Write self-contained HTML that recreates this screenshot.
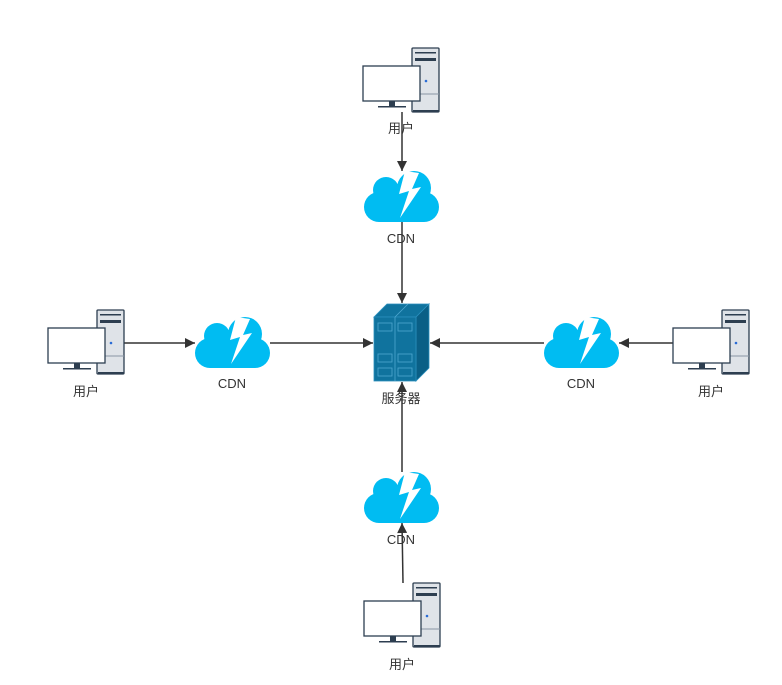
<!DOCTYPE html>
<html><head><meta charset="utf-8"><style>
html,body{margin:0;padding:0;background:#fff;}
svg text{font-family:"Liberation Sans","Noto Sans CJK SC",sans-serif;font-size:13px;fill:#333;text-anchor:middle;}
</style></head><body>
<svg width="782" height="680" viewBox="0 0 782 680" xmlns="http://www.w3.org/2000/svg">
<defs>
<g id="user">
  <rect x="49" y="0" width="27" height="64" rx="1" fill="#dfe3e8" stroke="#2d3e50" stroke-width="1.3"/>
  <rect x="52" y="4" width="21" height="1.5" fill="#2d3e50"/>
  <rect x="52" y="10" width="21" height="3" fill="#2d3e50"/>
  <line x1="49" y1="46" x2="76" y2="46" stroke="#8a96a3" stroke-width="1"/>
  <circle cx="63" cy="33" r="1.3" fill="#2a6cd6"/>
  <rect x="50" y="62" width="26" height="2" fill="#2d3e50"/>
  <rect x="0" y="18" width="57" height="35" fill="#fff" stroke="#2d3e50" stroke-width="1.3"/>
  <rect x="26" y="53" width="6" height="5" fill="#2d3e50"/>
  <rect x="15" y="58" width="28" height="1.5" fill="#2d3e50"/>
</g>
<g id="cloud">
  <circle cx="22" cy="20" r="13" fill="#00bcf2"/>
  <circle cx="50" cy="18" r="17" fill="#00bcf2"/>
  <rect x="0" y="22" width="75" height="30" rx="15" fill="#00bcf2"/>
  <polygon points="41,1 35,24 45,21 36,48 57,17 48,19 55,3" fill="#fff"/>
</g>
<marker id="ah" viewBox="0 0 10 10" refX="10" refY="5" markerWidth="16" markerHeight="10" markerUnits="userSpaceOnUse" orient="auto"><path d="M0,0 L10,5 L0,10 z" fill="#333"/></marker>
</defs>
<g stroke="#333" stroke-width="1.5" fill="none">
  <line x1="402" y1="112" x2="402" y2="171" marker-end="url(#ah)"/>
  <line x1="402" y1="222" x2="402" y2="303" marker-end="url(#ah)"/>
  <line x1="124" y1="343" x2="195" y2="343" marker-end="url(#ah)"/>
  <line x1="270" y1="343" x2="373" y2="343" marker-end="url(#ah)"/>
  <line x1="673" y1="343" x2="619" y2="343" marker-end="url(#ah)"/>
  <line x1="544" y1="343" x2="430" y2="343" marker-end="url(#ah)"/>
  <line x1="403" y1="583" x2="402" y2="523" marker-end="url(#ah)"/>
  <line x1="402" y1="472" x2="402" y2="382" marker-end="url(#ah)"/>
</g>
<use href="#user" x="363" y="48"/>
<use href="#user" x="48" y="310"/>
<use href="#user" x="673" y="310"/>
<use href="#user" x="364" y="583"/>
<use href="#cloud" x="364" y="170"/>
<use href="#cloud" x="195" y="316"/>
<use href="#cloud" x="544" y="316"/>
<use href="#cloud" x="364" y="471"/>
<!-- server -->
<polygon points="374,317 387,304 429,304 416,317" fill="#10739e" stroke="#2a8fbd" stroke-width="0.8"/>
<polygon points="416,317 429,304 429,368 416,381" fill="#0a5f86" stroke="#2a8fbd" stroke-width="0.8"/>
<rect x="374" y="317" width="42" height="64" fill="#10739e" stroke="#2a8fbd" stroke-width="0.8"/>
<line x1="395" y1="317" x2="395" y2="381" stroke="#4fa8d0" stroke-width="0.8"/>
<line x1="395" y1="317" x2="408" y2="304" stroke="#4fa8d0" stroke-width="0.8"/>
<g fill="none" stroke="#4fa8d0" stroke-width="0.8">
  <rect x="378" y="323" width="14" height="8"/><rect x="398" y="323" width="14" height="8"/>
  <rect x="378" y="354" width="14" height="8"/><rect x="398" y="354" width="14" height="8"/>
  <rect x="378" y="368" width="14" height="8"/><rect x="398" y="368" width="14" height="8"/>
</g>
<text x="401" y="133">用户</text>
<text x="86" y="396">用户</text>
<text x="711" y="396">用户</text>
<text x="402" y="669">用户</text>
<text x="401" y="243">CDN</text>
<text x="232" y="388">CDN</text>
<text x="581" y="388">CDN</text>
<text x="401" y="544">CDN</text>
<text x="401" y="403">服务器</text>
</svg>
</body></html>
